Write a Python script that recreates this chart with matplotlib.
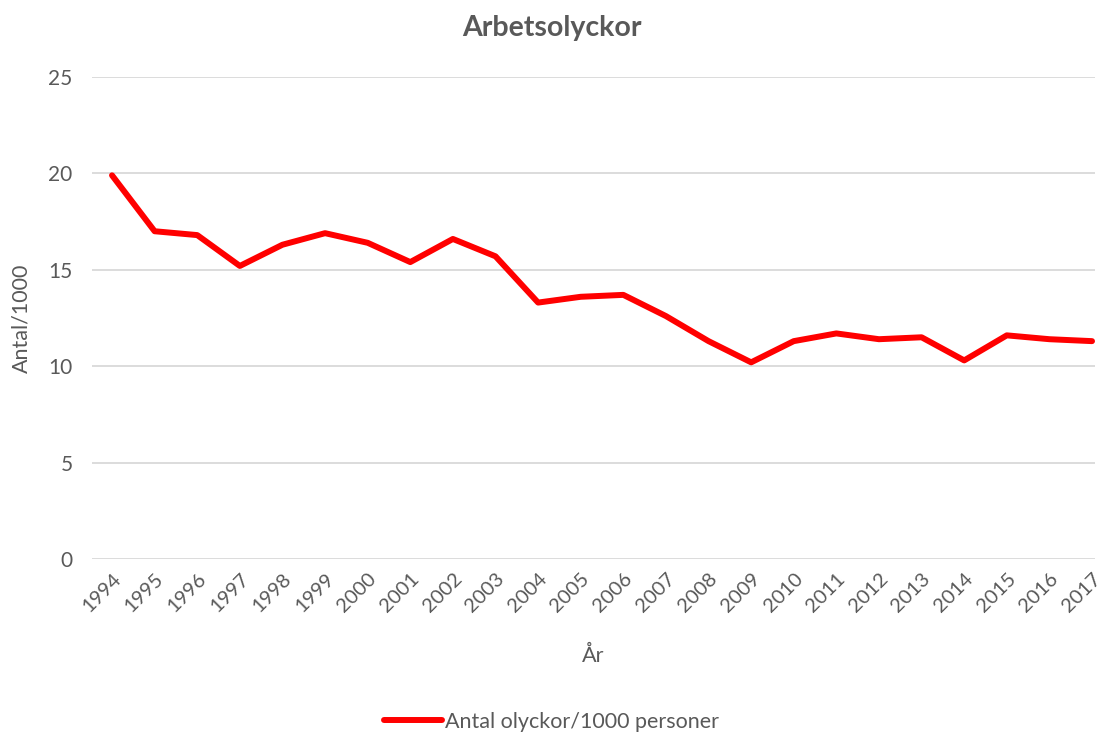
"""Arbetsolyckor 1994-2017, line chart."""

import matplotlib

matplotlib.use("Agg")

import matplotlib.pyplot as plt

years = [str(y) for y in range(1994, 2018)]
olyckor = [19.9, 17.0, 16.8, 15.2, 16.3, 16.9, 16.4, 15.4, 16.6, 15.7,
           13.3, 13.6, 13.7, 12.6, 11.3, 10.2, 11.3, 11.7, 11.4, 11.5,
           10.3, 11.6, 11.4, 11.3]
y_ticks = [0, 5, 10, 15, 20, 25]

TEXT = "#595959"
GRID = "#D9D9D9"

plt.rcParams["font.family"] = ["Lato", "DejaVu Sans"]

fig = plt.figure(figsize=(11.03, 7.38), dpi=100)
ax = fig.add_axes([92 / 1103, 1 - 559 / 738, (1095 - 92) / 1103, (559 - 77) / 738])

x = list(range(len(years)))
ax.plot(x, olyckor, color="#FF0000", linewidth=4.3, solid_capstyle="round",
        solid_joinstyle="round", label="Antal olyckor/1000 personer", zorder=3)

ax.set_ylim(0, 25)
ax.set_xlim(-0.47, len(years) - 1 + 0.07)
ax.set_yticks(y_ticks)
ax.set_xticks(x)
ax.set_xticklabels(years, rotation=45, ha="right", rotation_mode="anchor")
ax.grid(axis="y", color=GRID, linewidth=1.3)
ax.set_axisbelow(True)
for s in ax.spines.values():
    s.set_visible(False)
ax.tick_params(length=0, labelsize=15, labelcolor=TEXT)
ax.tick_params(axis="x", labelsize=14.5, pad=8)
ax.tick_params(axis="y", pad=14)
for lbl in ax.get_xticklabels():
    lbl.set_x(lbl.get_position()[0])

ax.set_xlabel("År", fontsize=15.5, color=TEXT, labelpad=22)
ax.set_ylabel("Antal/1000", fontsize=15.5, color=TEXT, labelpad=12)
fig.text(0.5, 1 - 28 / 738, "Arbetsolyckor", ha="center", va="center",
         fontsize=20.5, fontweight="bold", color=TEXT)

fig.legend(loc="center", bbox_to_anchor=(0.5, 1 - 722 / 738), frameon=False,
           fontsize=15.5, labelcolor=TEXT, handlelength=2.7, handletextpad=0.1)

fig.savefig("out.png", dpi=100)
